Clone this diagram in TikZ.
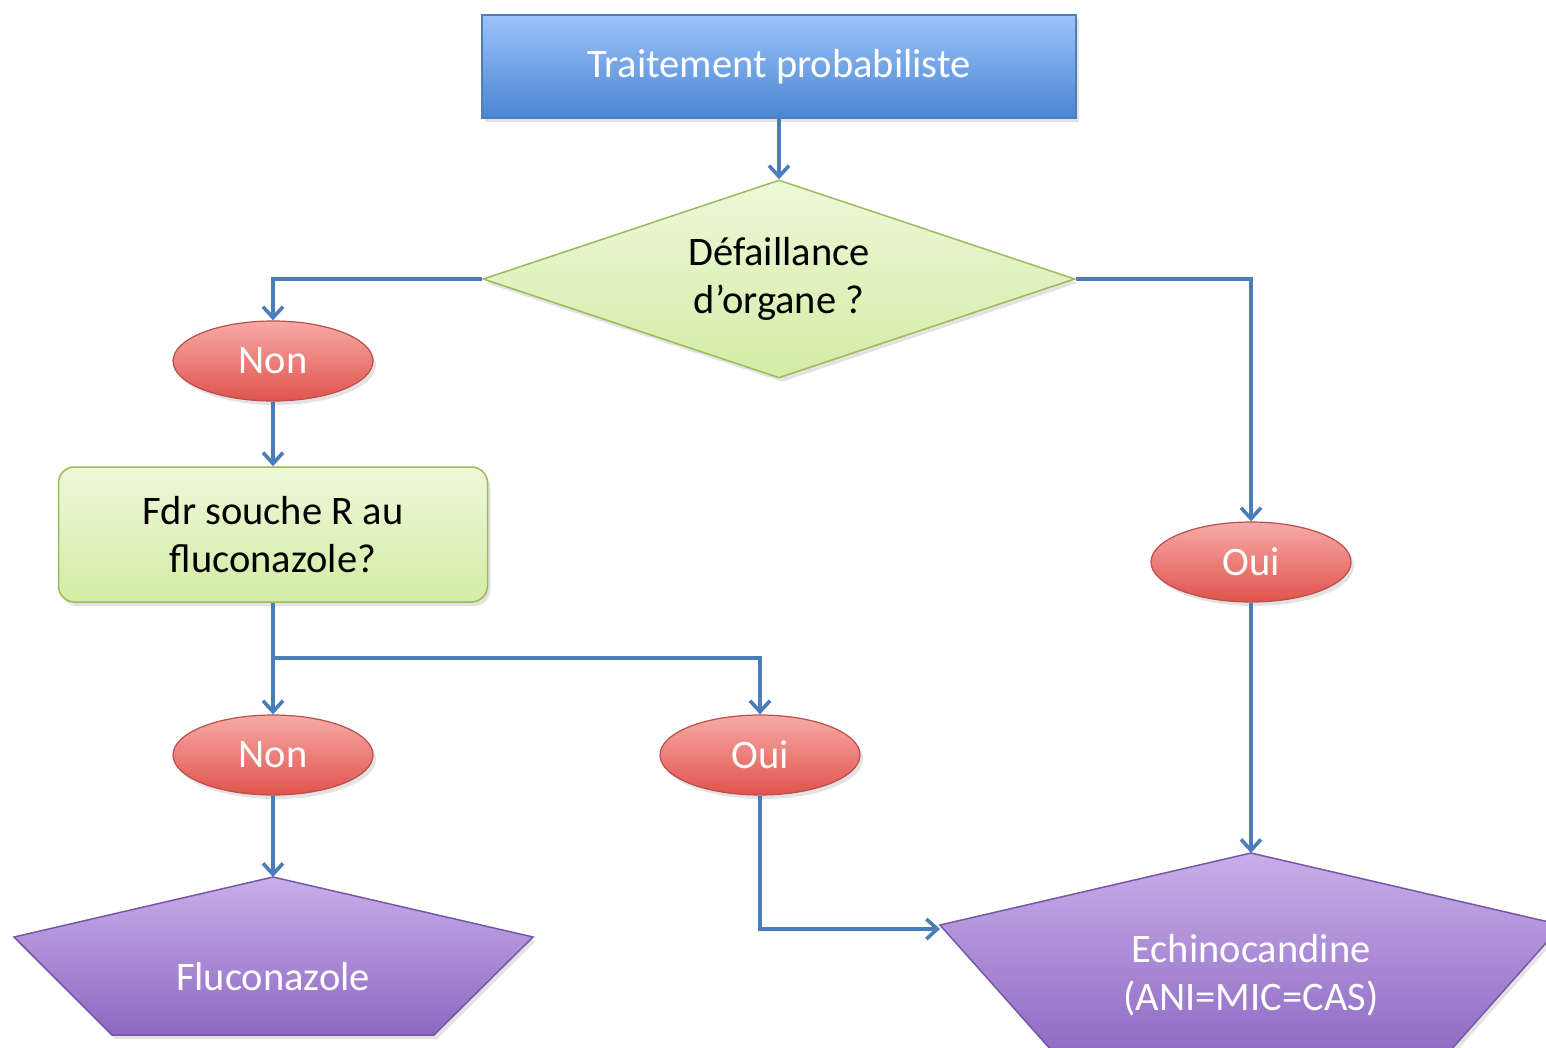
\documentclass[tikz,border=0pt]{standalone}
\usepackage{fontspec}
\setmainfont{Carlito}
\usetikzlibrary{shapes.geometric,arrows.meta,shadows}
\definecolor{linkBlue}{HTML}{4A7EBB}
\definecolor{boxTop}{HTML}{9DC3FA}
\definecolor{boxBottom}{HTML}{4A85D2}
\definecolor{boxLine}{HTML}{4F7EBD}
\definecolor{askTop}{HTML}{EEF8DA}
\definecolor{askBottom}{HTML}{D3ECA4}
\definecolor{askLine}{HTML}{9BBB59}
\definecolor{ansTop}{HTML}{F7AAA6}
\definecolor{ansBottom}{HTML}{E0534D}
\definecolor{ansLine}{HTML}{B9504C}
\definecolor{drugTop}{HTML}{C9AEEA}
\definecolor{drugBottom}{HTML}{8D68C2}
\definecolor{drugLine}{HTML}{7558A6}

\begin{document}
\begin{tikzpicture}[x=1pt,y=-1pt,
  font=\fontsize{40.5}{48}\selectfont,
  softshadow/.style={drop shadow={opacity=0.22, shadow xshift=3pt, shadow yshift=-4pt}},
  startbox/.style={rectangle, draw=boxLine, line width=1.5pt, top color=boxTop, bottom color=boxBottom,
    minimum width=594pt, minimum height=103pt, text=white, softshadow},
  askdiamond/.style={diamond, draw=askLine, line width=1.5pt, top color=askTop, bottom color=askBottom,
    minimum width=592pt, minimum height=198pt, aspect=3, inner sep=0pt, align=center, softshadow},
  askbox/.style={rectangle, rounded corners=16pt, draw=askLine, line width=1.5pt, top color=askTop, bottom color=askBottom,
    minimum width=429pt, minimum height=135pt, align=center, softshadow},
  answer/.style={ellipse, draw=ansLine, line width=1.2pt, top color=ansTop, bottom color=ansBottom,
    minimum width=200pt, minimum height=80pt, inner sep=0pt, text=white, softshadow},
  drugshape/.style={draw=drugLine, line width=1.5pt, top color=drugTop, bottom color=drugBottom, softshadow},
  drugtext/.style={text=white, align=center},
  link/.style={draw=linkBlue, line width=3.6pt, -{Straight Barb[length=11pt,width=20pt]}}
]
\clip (0,0) rectangle (1546,1047);

% question chain
\node[startbox] (start) at (779,66.5) {Traitement probabiliste};
\node[askdiamond] (organe) at (779,279) {Défaillance\\d’organe ?};
\node[answer] (organeNon) at (273,361) {Non};
\node[answer] (organeOui) at (1251,562) {Oui};
\node[askbox] (fdr) at (273,534.5) {Fdr souche R au\\fluconazole?};
\node[answer] (fdrNon) at (273,755) {Non};
\node[answer] (fdrOui) at (760,755) {Oui};

% treatments
\path[drugshape] (273,877) -- (533,937) -- (434,1035) -- (112,1035) -- (14,937) -- cycle;
\coordinate (flucoTop) at (273,877);
\node[drugtext] (fluco) at (273,977) {Fluconazole};
\path[drugshape] (1251,853) -- (1562,925) -- (1442,1060) -- (1060,1060) -- (940,925) -- cycle;
\coordinate (echinoTop) at (1251,853);
\coordinate (echinoLeft) at (940,929);
\node[drugtext] (echino) at (1251,975) {Echinocandine\\(ANI=MIC=CAS)};

% links
\coordinate (fdrSplit) at (273,658);
\draw[link] (start.south) -- (organe.north);
\draw[link] (organe.west) -| (organeNon.north);
\draw[link] (organe.east) -| (organeOui.north);
\draw[link] (organeNon.south) -- (fdr.north);
\draw[link] (fdr.south) -- (fdrNon.north);
\draw[link] (fdrSplit) -| (fdrOui.north);
\draw[link] (fdrNon.south) -- (flucoTop);
\draw[link] (fdrOui.south) |- (echinoLeft);
\draw[link] (organeOui.south) -- (echinoTop);
\end{tikzpicture}
\end{document}
